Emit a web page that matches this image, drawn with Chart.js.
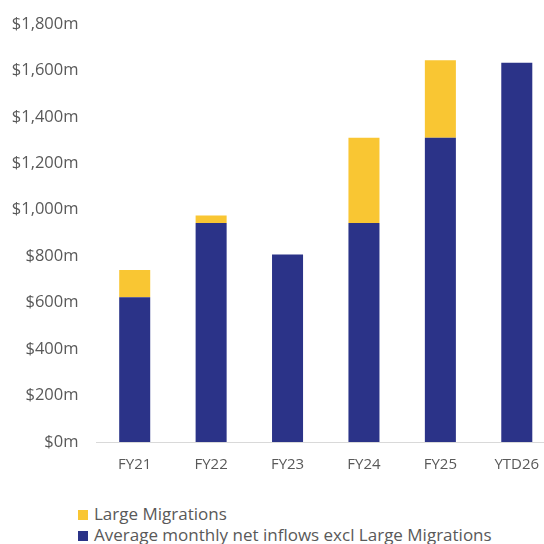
<!DOCTYPE html>
<html>
<head>
<meta charset="utf-8">
<script src="https://cdn.jsdelivr.net/npm/chart.js@4/dist/chart.umd.min.js"></script>
<style>
  html, body { margin: 0; padding: 0; background: #fff; overflow: hidden; width: 544px; height: 544px; }
  #wrap { position: absolute; left: 0; top: -4px; width: 556px; height: 492px; }
  #legend { position: absolute; left: 78px; top: 503px; font-family: "Open Sans", sans-serif; font-size: 17px; color: #595959; }
  #legend div { height: 21px; line-height: 21px; white-space: nowrap; }
  #legend span { display: inline-block; width: 10px; height: 10px; margin-right: 6px; vertical-align: 0px; }
</style>
</head>
<body>
<div id="wrap"><canvas id="myChart" width="556" height="492"></canvas></div>
<div id="legend"></div>
<script>
const categories = ['FY21', 'FY22', 'FY23', 'FY24', 'FY25', 'YTD26'];
const baseInflows = [623, 943, 807, 943, 1310, 1633];
const largeMigrations = [118, 32, 0, 367, 333, 0];
const baseLabel = 'Average monthly net inflows excl Large Migrations';
const migrationLabel = 'Large Migrations';
const blue = '#2b3388';
const yellow = '#f9c633';

const chart = new Chart(document.getElementById('myChart').getContext('2d'), {
  type: 'bar',
  data: {
    labels: categories,
    datasets: [
      { label: baseLabel, data: baseInflows, backgroundColor: blue },
      { label: migrationLabel, data: largeMigrations, backgroundColor: yellow }
    ]
  },
  options: {
    responsive: false,
    animation: false,
    layout: { padding: { top: 9, left: 0, right: 1, bottom: 0 } },
    datasets: { bar: { categoryPercentage: 1, barPercentage: 0.406 } },
    plugins: { legend: { display: false }, tooltip: { enabled: false } },
    scales: {
      x: {
        stacked: true,
        grid: { display: false, drawTicks: false },
        border: { display: true, color: '#d9d9d9', width: 1 },
        ticks: { color: '#595959', font: { family: 'Open Sans', size: 15 }, padding: 14 }
      },
      y: {
        stacked: true,
        min: 0,
        max: 1800,
        grid: { display: false, drawTicks: false },
        border: { display: false },
        afterFit: scale => { scale.width = 96.5; },
        ticks: {
          stepSize: 200,
          padding: 18,
          color: '#595959',
          font: { family: 'Open Sans', size: 16.5 },
          callback: v => '$' + v.toLocaleString('en-US') + 'm'
        }
      }
    }
  }
});

// legend, Large Migrations listed first
const legend = document.getElementById('legend');
[[migrationLabel, yellow], [baseLabel, blue]].forEach(([text, color]) => {
  const row = document.createElement('div');
  const box = document.createElement('span');
  box.style.background = color;
  row.appendChild(box);
  row.appendChild(document.createTextNode(text));
  legend.appendChild(row);
});
</script>
</body>
</html>
